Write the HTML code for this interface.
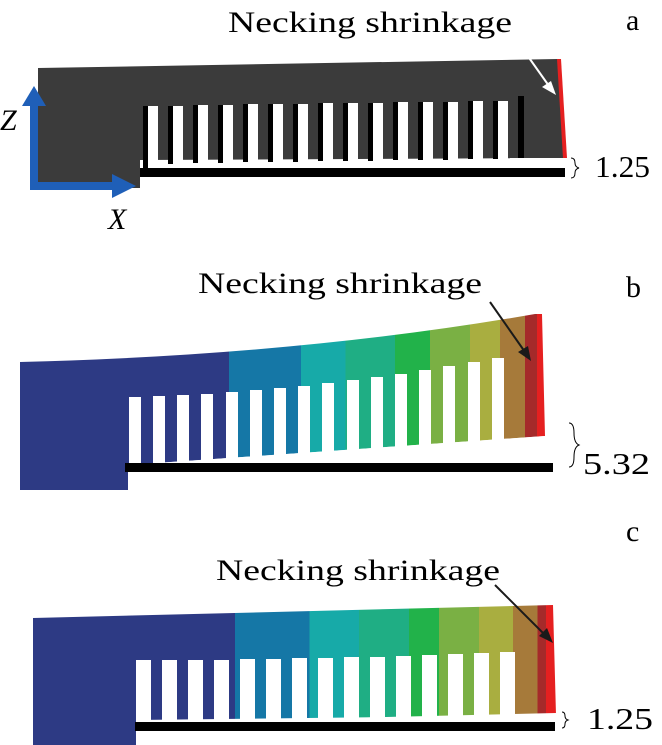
<!DOCTYPE html>
<html><head><meta charset="utf-8"><style>
html,body{margin:0;padding:0;background:#fff;}
svg{display:block;}
text{font-family:"Liberation Serif","Times New Roman",serif;fill:#000;}
</style></head><body>
<svg width="662" height="745" viewBox="0 0 662 745" xmlns="http://www.w3.org/2000/svg">
<defs>
<linearGradient id="gb" x1="20" x2="545" y1="0" y2="0" gradientUnits="userSpaceOnUse">
<stop offset="0" stop-color="#2d3a84"/><stop offset="0.398" stop-color="#2d3a84"/>
<stop offset="0.398" stop-color="#1577a6"/><stop offset="0.535" stop-color="#1577a6"/>
<stop offset="0.535" stop-color="#17aaa8"/><stop offset="0.62" stop-color="#17aaa8"/>
<stop offset="0.62" stop-color="#1fae84"/><stop offset="0.714" stop-color="#1fae84"/>
<stop offset="0.714" stop-color="#22b24a"/><stop offset="0.781" stop-color="#22b24a"/>
<stop offset="0.781" stop-color="#7ab044"/><stop offset="0.857" stop-color="#7ab044"/>
<stop offset="0.857" stop-color="#a9ae40"/><stop offset="0.914" stop-color="#a9ae40"/>
<stop offset="0.914" stop-color="#a67a3a"/><stop offset="0.962" stop-color="#a67a3a"/>
<stop offset="0.962" stop-color="#a52a2a"/><stop offset="0.985" stop-color="#a52a2a"/>
<stop offset="0.985" stop-color="#e52020"/><stop offset="1" stop-color="#e52020"/>
</linearGradient>
<linearGradient id="gc" x1="33" x2="555" y1="0" y2="0" gradientUnits="userSpaceOnUse">
<stop offset="0" stop-color="#2d3a84"/><stop offset="0.387" stop-color="#2d3a84"/>
<stop offset="0.387" stop-color="#1577a6"/><stop offset="0.53" stop-color="#1577a6"/>
<stop offset="0.53" stop-color="#17aaa8"/><stop offset="0.625" stop-color="#17aaa8"/>
<stop offset="0.625" stop-color="#1fae84"/><stop offset="0.72" stop-color="#1fae84"/>
<stop offset="0.72" stop-color="#22b24a"/><stop offset="0.778" stop-color="#22b24a"/>
<stop offset="0.778" stop-color="#7ab044"/><stop offset="0.854" stop-color="#7ab044"/>
<stop offset="0.854" stop-color="#a9ae40"/><stop offset="0.92" stop-color="#a9ae40"/>
<stop offset="0.92" stop-color="#a67a3a"/><stop offset="0.966" stop-color="#a67a3a"/>
<stop offset="0.966" stop-color="#a52a2a"/><stop offset="0.983" stop-color="#a52a2a"/>
<stop offset="0.983" stop-color="#e52020"/><stop offset="1" stop-color="#e52020"/>
</linearGradient>
</defs>

<!-- Panel a -->
<text x="228" y="32" font-size="30" textLength="284" lengthAdjust="spacingAndGlyphs">Necking shrinkage</text>
<text x="626" y="30" font-size="30">a</text>
<polygon points="38,68 558,59 565,158 140,160 140,188 38,188" fill="#3b3b3b"/>
<g fill="#fff">
<rect x="148" y="106" width="10" height="62"/><rect x="173" y="106" width="10" height="62"/>
<rect x="198" y="105" width="10" height="63"/><rect x="223" y="105" width="10" height="63"/>
<rect x="248" y="104" width="10" height="64"/><rect x="273" y="104" width="10" height="64"/>
<rect x="298" y="104" width="10" height="64"/><rect x="323" y="103" width="10" height="65"/>
<rect x="348" y="103" width="10" height="65"/><rect x="373" y="103" width="10" height="65"/>
<rect x="398" y="102" width="10" height="66"/><rect x="423" y="102" width="10" height="66"/>
<rect x="448" y="102" width="10" height="66"/><rect x="473" y="101" width="10" height="67"/>
<rect x="498" y="101" width="10" height="67"/>
</g>
<g fill="#000">
<rect x="143" y="106" width="5" height="62"/><rect x="168" y="106" width="5" height="58"/>
<rect x="193" y="105" width="5" height="58"/><rect x="218" y="105" width="5" height="58"/>
<rect x="243" y="104" width="5" height="58"/><rect x="268" y="104" width="5" height="58"/>
<rect x="293" y="104" width="5" height="58"/><rect x="318" y="103" width="5" height="58"/>
<rect x="343" y="103" width="5" height="58"/><rect x="368" y="103" width="5" height="58"/>
<rect x="393" y="102" width="5" height="58"/><rect x="418" y="102" width="5" height="58"/>
<rect x="443" y="102" width="5" height="58"/><rect x="468" y="101" width="5" height="58"/>
<rect x="493" y="101" width="5" height="58"/><rect x="518" y="96" width="6" height="62"/>
</g>
<rect x="510" y="158" width="55" height="10" fill="#fff"/>
<rect x="140" y="168" width="425" height="9" fill="#000"/>
<polygon points="557,59 561,59 567,158 563,158" fill="#e52020"/>
<line x1="515" y1="38" x2="549" y2="86" stroke="#fff" stroke-width="2"/>
<polygon points="556,95 542,87 551,81" fill="#fff"/>
<path d="M571,158 q4,0 4,5 q0,4 4,5 q-4,1 -4,5 q0,5 -4,5" fill="none" stroke="#000" stroke-width="1"/>
<text x="595" y="177" font-size="31" textLength="55" lengthAdjust="spacingAndGlyphs">1.25</text>
<!-- axes -->
<rect x="30" y="104" width="8" height="86" fill="#1f5fb8"/>
<polygon points="22,106 46,106 34,86" fill="#1f5fb8"/>
<rect x="30" y="182" width="84" height="8" fill="#1f5fb8"/>
<polygon points="112,174 112,198 136,186" fill="#1f5fb8"/>
<text x="0" y="130" font-size="30" font-style="italic">Z</text>
<text x="108" y="229" font-size="30" font-style="italic">X</text>

<!-- Panel b -->
<text x="198" y="293" font-size="30" textLength="284" lengthAdjust="spacingAndGlyphs">Necking shrinkage</text>
<text x="626" y="297" font-size="30">b</text>
<path d="M20,362 Q300,355 535,314 L542,314 L545,436 L128,465 L128,490 L20,490 Z" fill="url(#gb)"/>
<g fill="#fff">
<rect x="129" y="397" width="12" height="70"/><rect x="153" y="396" width="12" height="71"/>
<rect x="177" y="395" width="12" height="72"/><rect x="201" y="394" width="12" height="73"/>
<rect x="226" y="392" width="12" height="75"/><rect x="250" y="390" width="12" height="77"/>
<rect x="274" y="388" width="12" height="79"/><rect x="298" y="386" width="12" height="81"/>
<rect x="322" y="383" width="12" height="84"/><rect x="347" y="380" width="12" height="87"/>
<rect x="371" y="377" width="12" height="90"/><rect x="395" y="374" width="12" height="93"/>
<rect x="419" y="370" width="12" height="97"/><rect x="443" y="366" width="12" height="101"/>
<rect x="468" y="362" width="12" height="105"/><rect x="492" y="358" width="12" height="109"/>
</g>
<polygon points="128,465 545,436 545,467 128,467" fill="#fff"/>
<rect x="125" y="463" width="428" height="9" fill="#000"/>
<line x1="490" y1="302" x2="525" y2="352" stroke="#1a1a1a" stroke-width="2"/>
<polygon points="531,361 518,352 528,346" fill="#1a1a1a"/>
<path d="M569,423 q5,0 5,10 q0,10 5,12 q-5,2 -5,12 q0,10 -5,10" fill="none" stroke="#000" stroke-width="1"/>
<text x="583" y="474" font-size="31" textLength="67" lengthAdjust="spacingAndGlyphs">5.32</text>

<!-- Panel c -->
<text x="216" y="580" font-size="30" textLength="284" lengthAdjust="spacingAndGlyphs">Necking shrinkage</text>
<text x="626" y="541" font-size="30">c</text>
<polygon points="33,618 553,605 556,715 136,720 136,745 33,745" fill="url(#gc)"/>
<g fill="#fff">
<rect x="136" y="660" width="15" height="63"/><rect x="162" y="660" width="15" height="63"/>
<rect x="188" y="660" width="15" height="63"/><rect x="214" y="660" width="15" height="63"/>
<rect x="240" y="659" width="15" height="64"/><rect x="266" y="659" width="15" height="64"/>
<rect x="292" y="658" width="15" height="65"/><rect x="318" y="658" width="15" height="65"/>
<rect x="344" y="657" width="15" height="66"/><rect x="370" y="657" width="15" height="66"/>
<rect x="396" y="656" width="15" height="67"/><rect x="422" y="655" width="15" height="68"/>
<rect x="448" y="654" width="15" height="69"/><rect x="474" y="653" width="15" height="70"/>
<rect x="500" y="652" width="15" height="71"/>
</g>
<polygon points="136,723 556,713 556,723" fill="#fff"/>
<rect x="135" y="722" width="420" height="9" fill="#000"/>
<line x1="495" y1="585" x2="546" y2="636" stroke="#1a1a1a" stroke-width="2"/>
<polygon points="553,643 539,636 547,628" fill="#1a1a1a"/>
<path d="M562,712 q3,0 3,4 q0,3 3,4 q-3,1 -3,4 q0,4 -3,4" fill="none" stroke="#000" stroke-width="1"/>
<text x="587" y="729" font-size="31" textLength="66" lengthAdjust="spacingAndGlyphs">1.25</text>
</svg>
</body></html>
